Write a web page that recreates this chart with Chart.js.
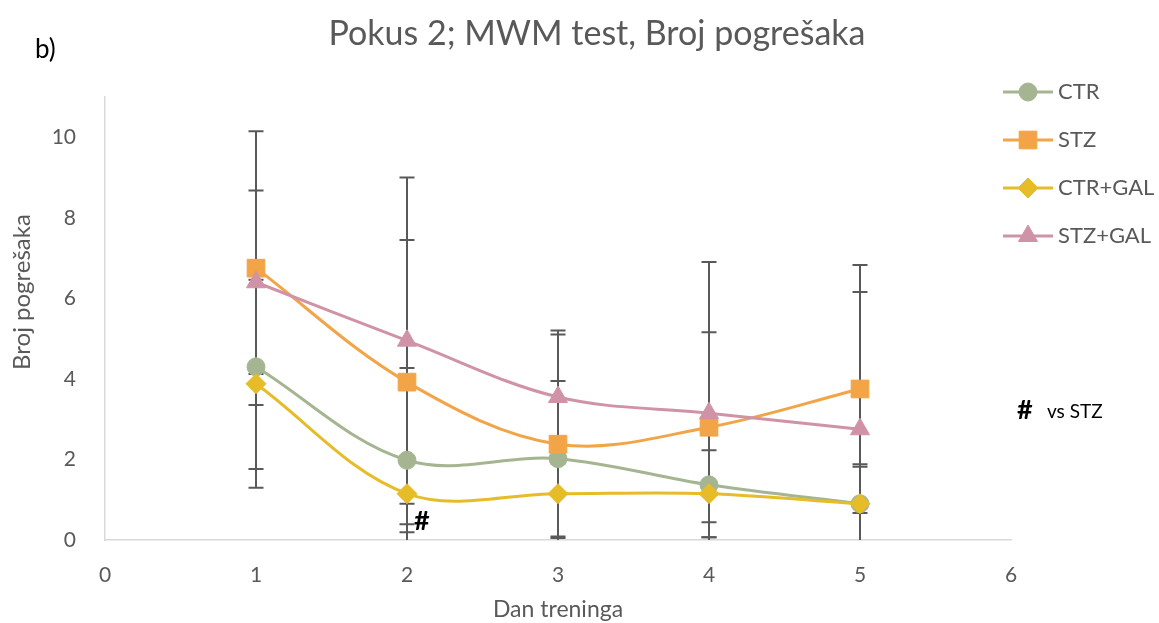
<!DOCTYPE html>
<html><head><meta charset="utf-8">
<script src="https://cdn.jsdelivr.net/npm/chart.js@4"></script>
<style>html,body{margin:0;padding:0;background:#fff}#wrap{width:1159px;height:623px;position:relative}</style>
</head><body><div id="wrap"><canvas id="c" width="1159" height="623"></canvas></div>
<script>
// ---- data ----
const days = [1, 2, 3, 4, 5];
const seriesNames = ['CTR', 'STZ', 'CTR+GAL', 'STZ+GAL'];
const ctrMean    = [4.30, 1.98, 2.02, 1.37, 0.90];
const ctrSD      = [2.54, 1.79, 1.93, 1.30, 0.98];
const stzMean    = [6.75, 3.92, 2.38, 2.80, 3.75];
const stzSD      = [3.40, 3.53, 2.72, 2.36, 3.08];
const ctrGalMean = [3.88, 1.15, 1.15, 1.15, 0.90];
const ctrGalSD   = [2.58, 3.12, 1.10, 1.08, 0.92];
const stzGalMean = [6.40, 4.95, 3.55, 3.15, 2.75];
const stzGalSD   = [2.28, 4.05, 1.65, 3.75, 3.41];
const xTickValues = [0, 1, 2, 3, 4, 5, 6];
const yTickValues = [0, 2, 4, 6, 8, 10];
const titleText = 'Pokus 2; MWM test, Broj pogrešaka';
const xTitle = 'Dan treninga';
const yTitle = 'Broj pogrešaka';
const panelLabel = 'b)';
const sigMark = '#';
const sigNote = 'vs STZ';
const sigDay = 2;

const means = [ctrMean, stzMean, ctrGalMean, stzGalMean];
const sds = [ctrSD, stzSD, ctrGalSD, stzGalSD];
const colors = ['#A5B592', '#F3A447', '#E7BC29', '#D092A7'];
const styles = ['circle', 'rect', 'rectRot', 'triangle'];
const radii = [9, 12.5, 10, 11];
const FONT = 'Lato, "Open Sans", sans-serif';
const GRAY = '#595959';

const datasets = seriesNames.map((n, i) => ({
  label: n,
  data: days.map((d, j) => ({x: d, y: means[i][j]})),
  borderColor: colors[i],
  backgroundColor: colors[i],
  pointBackgroundColor: colors[i],
  pointBorderColor: colors[i],
  pointStyle: styles[i],
  pointRadius: radii[i],
  pointHoverRadius: radii[i],
  pointBorderWidth: 1,
  borderWidth: 3,
  tension: 0.35,
  fill: false,
  order: 4 - i,
  errors: sds[i]
}));

const errorBars = {
  id: 'errorBars',
  beforeDatasetsDraw(chart) {
    const {ctx, chartArea, scales: {x, y}} = chart;
    ctx.save();
    ctx.beginPath();
    ctx.rect(chartArea.left, chartArea.top - 20, chartArea.right - chartArea.left, chartArea.bottom - chartArea.top + 20);
    ctx.clip();
    ctx.strokeStyle = GRAY;
    ctx.lineWidth = 2;
    const cap = 7.5;
    chart.data.datasets.forEach(ds => {
      ds.data.forEach((p, j) => {
        const e = ds.errors[j];
        const px = x.getPixelForValue(p.x);
        const hiV = p.y + e, loV = p.y - e;
        const hi = y.getPixelForValue(hiV);
        const lo = y.getPixelForValue(Math.max(loV, y.min));
        ctx.beginPath();
        ctx.moveTo(px, hi); ctx.lineTo(px, lo);
        ctx.moveTo(px - cap, hi); ctx.lineTo(px + cap, hi);
        if (loV >= y.min) { ctx.moveTo(px - cap, lo); ctx.lineTo(px + cap, lo); }
        ctx.stroke();
      });
    });
    ctx.restore();
  }
};

const decorations = {
  id: 'decorations',
  afterDraw(chart) {
    const {ctx, chartArea, scales: {x, y}} = chart;
    ctx.save();
    ctx.textBaseline = 'middle';
    // title
    ctx.fillStyle = GRAY;
    ctx.textAlign = 'center';
    ctx.font = '34px ' + FONT;
    ctx.fillText(titleText, 597, 34);
    // panel label
    ctx.fillStyle = '#000';
    ctx.textAlign = 'left';
    ctx.font = '26px ' + FONT;
    ctx.fillText(panelLabel, 35, 50);
    // y title
    ctx.save();
    ctx.translate(22, 292);
    ctx.rotate(-Math.PI / 2);
    ctx.textAlign = 'center';
    ctx.fillStyle = GRAY;
    ctx.font = '24px ' + FONT;
    ctx.fillText(yTitle, 0, 0);
    ctx.restore();
    // legend
    ctx.font = '22px ' + FONT;
    seriesNames.forEach((n, i) => {
      const ly = 92 + i * 48;
      ctx.strokeStyle = colors[i];
      ctx.lineWidth = 3;
      ctx.beginPath(); ctx.moveTo(1003, ly); ctx.lineTo(1053, ly); ctx.stroke();
      ctx.fillStyle = colors[i];
      ctx.strokeStyle = colors[i];
      ctx.lineWidth = 1;
      Chart.helpers.drawPoint(ctx, {pointStyle: styles[i], radius: radii[i], rotation: 0, borderWidth: 1}, 1028, ly);
      ctx.fillStyle = GRAY;
      ctx.textAlign = 'left';
      ctx.fillText(n, 1058, ly);
    });
    // significance
    ctx.fillStyle = '#000';
    ctx.font = 'bold 27px ' + FONT;
    ctx.textAlign = 'left';
    ctx.fillText(sigMark, x.getPixelForValue(sigDay) + 7, y.getPixelForValue(0.47));
    ctx.fillText(sigMark, 1017, 410);
    ctx.font = '19px ' + FONT;
    ctx.fillText(sigNote, 1047, 412);
    ctx.restore();
  }
};

new Chart(document.getElementById('c'), {
  type: 'line',
  data: {datasets},
  options: {
    responsive: false,
    devicePixelRatio: 1,
    animation: false,
    layout: {padding: {top: 97, right: 148, left: 0, bottom: 0}},
    plugins: {legend: {display: false}, title: {display: false}, tooltip: {enabled: false}},
    scales: {
      x: {
        type: 'linear', min: 0, max: 6,
        afterFit: s => { s.height = 83; },
        afterBuildTicks: s => { s.ticks = xTickValues.map(v => ({value: v})); },
        grid: {display: false},
        border: {display: true, color: '#D9D9D9', width: 1.5},
        ticks: {color: GRAY, font: {size: 21, family: FONT}, padding: 15},
        title: {display: true, text: xTitle, color: GRAY, font: {size: 23, family: FONT}, padding: {top: 0, bottom: 0}}
      },
      y: {
        type: 'linear', min: 0, max: 11,
        afterFit: s => { s.width = 105; },
        afterBuildTicks: s => { s.ticks = yTickValues.map(v => ({value: v})); },
        grid: {display: false},
        border: {display: true, color: '#D9D9D9', width: 1.5},
        ticks: {color: GRAY, font: {size: 21, family: FONT}, padding: 21},
        title: {display: false}
      }
    }
  },
  plugins: [errorBars, decorations]
});
</script>
</body></html>
